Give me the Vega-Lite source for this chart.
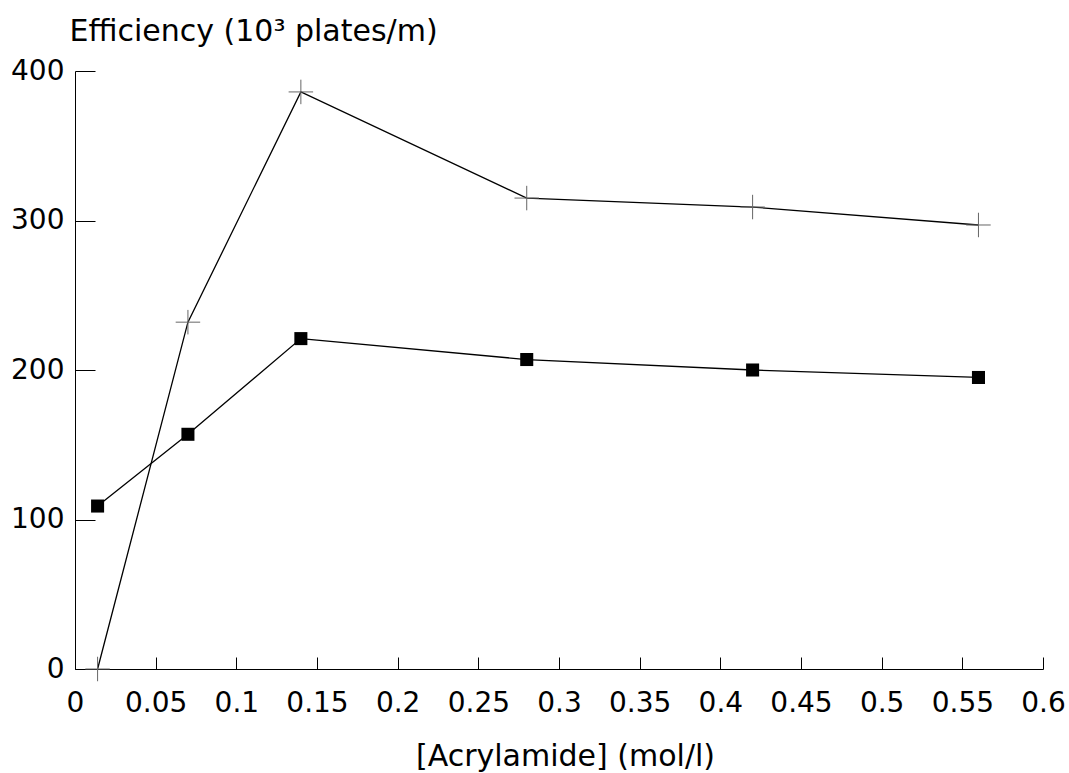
{
  "$schema": "https://vega.github.io/schema/vega-lite/v6.json",
  "width": 968,
  "height": 598,
  "autosize": "none",
  "padding": {"left": 75, "top": 71, "right": 26, "bottom": 104},
  "background": "white",
  "config": {
    "view": {"stroke": null},
    "font": "DejaVu Sans",
    "axis": {
      "grid": false,
      "domainColor": "black",
      "domainWidth": 1,
      "tickColor": "black",
      "tickWidth": 1,
      "labelColor": "black",
      "titleColor": "black",
      "labelFont": "DejaVu Sans",
      "titleFont": "DejaVu Sans",
      "labelFontSize": 28,
      "titleFontSize": 30,
      "titleFontWeight": "normal",
      "labelFlush": false,
      "labelOverlap": false
    }
  },
  "data": {
    "values": [
      {"c": 0.014, "eff": 0, "series": "A"},
      {"c": 0.07, "eff": 232, "series": "A"},
      {"c": 0.14, "eff": 386, "series": "A"},
      {"c": 0.28, "eff": 315, "series": "A"},
      {"c": 0.42, "eff": 309, "series": "A"},
      {"c": 0.56, "eff": 297, "series": "A"},
      {"c": 0.014, "eff": 109, "series": "B"},
      {"c": 0.07, "eff": 157, "series": "B"},
      {"c": 0.14, "eff": 221, "series": "B"},
      {"c": 0.28, "eff": 207, "series": "B"},
      {"c": 0.42, "eff": 200, "series": "B"},
      {"c": 0.56, "eff": 195, "series": "B"}
    ]
  },
  "encoding": {
    "x": {
      "field": "c",
      "type": "quantitative",
      "scale": {"domain": [0, 0.6], "nice": false, "zero": true},
      "axis": {
        "values": [0, 0.05, 0.1, 0.15, 0.2, 0.25, 0.3, 0.35, 0.4, 0.45, 0.5, 0.55, 0.6],
        "format": "~g",
        "tickSize": -12,
        "labelPadding": 32,
        "labelBaseline": "top",
        "title": "[Acrylamide] (mol/l)",
        "titleAnchor": "start",
        "titleAlign": "center",
        "titleX": 490,
        "titleY": 96,
        "titleBaseline": "alphabetic"
      }
    },
    "y": {
      "field": "eff",
      "type": "quantitative",
      "scale": {"domain": [0, 400], "nice": false},
      "axis": {
        "values": [0, 100, 200, 300, 400],
        "format": "d",
        "tickSize": -20,
        "labelPadding": 31,
        "title": "Efficiency (10³ plates/m)",
        "titleAngle": 0,
        "titleAlign": "left",
        "titleAnchor": "start",
        "titleBaseline": "alphabetic",
        "titleX": -6,
        "titleY": -31
      }
    }
  },
  "layer": [
    {
      "mark": {"type": "line", "color": "black", "strokeWidth": 1.3},
      "encoding": {"detail": {"field": "series", "type": "nominal"}}
    },
    {
      "transform": [{"filter": "datum.series === 'A'"}],
      "mark": {
        "type": "point",
        "shape": "M-1,0L1,0M0,-1L0,1",
        "filled": false,
        "stroke": "#666666",
        "strokeWidth": 1,
        "size": 600,
        "opacity": 1
      }
    },
    {
      "transform": [{"filter": "datum.series === 'B'"}],
      "mark": {
        "type": "point",
        "shape": "square",
        "filled": true,
        "color": "black",
        "size": 170,
        "opacity": 1
      }
    }
  ]
}
